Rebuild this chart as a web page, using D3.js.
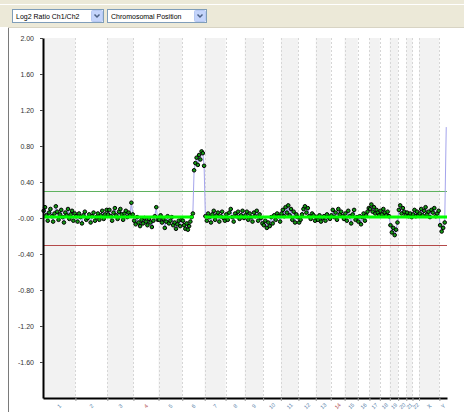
<!DOCTYPE html>
<html>
<head>
<meta charset="utf-8">
<script src="https://cdn.jsdelivr.net/npm/d3@7/dist/d3.min.js"></script>
<style>
    html, body { margin: 0; padding: 0; background: #fff; }
    svg { display: block; font-family: "Liberation Sans", Arial, sans-serif; }
</style>
</head>
<body>
<svg id="chart" width="464" height="412"></svg>
<script>

// chromosomes and their lengths (Mb)
var chromosomes = ['1', '2', '3', '4', '5', '6', '7', '8', '9', '10', '11', '12',
    '13', '14', '15', '16', '17', '18', '19', '20', '21', '22', 'X', 'Y'];
var chromLengths = [247, 243, 199, 191, 181, 171, 159, 146, 140, 135, 134, 132,
    114, 106, 100, 89, 79, 76, 64, 62, 47, 50, 155, 58];

// log2 ratio Ch1/Ch2, probes in order along each chromosome
var log2Chr1 = [0.08, 0.12, 0.03, -0.03, 0.06, 0.10, 0.02, -0.04, 0.05, 0.13, 0.07, -0.02,
    0.04, 0.09, 0.01, -0.05, 0.06, 0.03, 0.10, -0.01, 0.04, 0.08, -0.03, 0.05];
var log2Chr2 = [0.02, -0.04, 0.05, 0.01, -0.06, 0.03, 0.07, -0.02, 0.00, 0.04, -0.05,
    0.02, 0.06, -0.03, 0.01, 0.05, -0.02, 0.03, 0.08, -0.01, 0.04, 0.09];
var log2Chr3 = [0.04, 0.09, 0.02, -0.03, 0.06, 0.11, 0.03, -0.01, 0.07, 0.10, 0.04, -0.02,
    0.05, 0.08, 0.01, 0.06, 0.03, 0.17, 0.04];
var log2Chr4 = [-0.03, -0.07, 0.01, -0.05, -0.09, -0.02, -0.06, 0.00, -0.04, -0.08, -0.01,
    -0.05, -0.10, -0.03, 0.02, 0.12, -0.02];
var log2Chr5 = [-0.02, 0.03, -0.05, -0.01, -0.11, -0.04, 0.02, -0.06, -0.03, 0.01, -0.08,
    -0.05, -0.12, -0.07, -0.03, -0.09, -0.02];
var log2Chr6 = [-0.03, -0.08, -0.12, -0.06, -0.13, -0.09, -0.04, 0.01, 0.05,
    0.53, 0.61, 0.67, 0.59, 0.70, 0.65, 0.74, 0.72, 0.58];
var log2Chr7 = [0.02, -0.03, 0.05, 0.01, -0.05, 0.04, 0.08, -0.02, 0.03, 0.06, -0.04,
    0.02, 0.07, 0.00, -0.03];
var log2Chr8 = [0.04, -0.02, 0.06, 0.10, 0.01, -0.04, 0.05, 0.02, 0.07, -0.01, 0.03, 0.08, 0.00];
var log2Chr9 = [0.03, 0.07, -0.02, 0.05, 0.01, -0.04, 0.06, 0.02, 0.08, -0.03, 0.04, 0.00, -0.06];
var log2Chr10 = [-0.08, -0.03, -0.11, -0.05, -0.09, 0.01, -0.06, 0.03, -0.02, 0.05, 0.02, -0.04];
var log2Chr11 = [0.05, 0.09, 0.02, 0.12, 0.06, 0.14, 0.03, 0.10, -0.02, 0.07, -0.05, 0.04, 0.01];
var log2Chr12 = [-0.05, -0.02, 0.04, 0.10, 0.13, 0.06, 0.11, 0.02, -0.01, 0.05, 0.03, -0.03];
var log2Chr13 = [0.01, -0.02, 0.03, -0.04, 0.00, 0.02, -0.03, 0.04, 0.01, -0.01];
var log2Chr14 = [0.03, 0.09, 0.01, 0.06, -0.02, 0.10, 0.04, 0.07, 0.02, -0.01];
var log2Chr15 = [0.05, -0.03, 0.08, 0.02, -0.06, 0.04, 0.09, -0.02, 0.01];
var log2Chr16 = [-0.04, 0.02, -0.07, 0.01, 0.05, -0.03, 0.03, 0.07, 0.11];
var log2Chr17 = [0.10, 0.15, 0.07, 0.12, 0.05, 0.09, 0.06, 0.03];
var log2Chr18 = [0.08, 0.04, 0.10, 0.06, 0.03, 0.07, 0.02];
var log2Chr19 = [-0.08, -0.16, -0.11, -0.19, -0.13, -0.05];
var log2Chr20 = [0.09, 0.14, 0.05, 0.11, 0.07, 0.03];
var log2Chr21 = [0.06, 0.02, 0.05, 0.01];
var log2Chr22 = [0.04, 0.09, 0.02, 0.07, 0.03];
var log2ChrX = [0.05, 0.10, 0.03, 0.08, 0.12, 0.04, 0.07, 0.01, 0.09, 0.06, 0.11, 0.02, 0.05, 0.08];
var log2ChrY = [-0.08, -0.15, -0.11, -0.05, 1.01];

var probeValues = [log2Chr1, log2Chr2, log2Chr3, log2Chr4, log2Chr5, log2Chr6, log2Chr7,
    log2Chr8, log2Chr9, log2Chr10, log2Chr11, log2Chr12, log2Chr13, log2Chr14, log2Chr15,
    log2Chr16, log2Chr17, log2Chr18, log2Chr19, log2Chr20, log2Chr21, log2Chr22,
    log2ChrX, log2ChrY];

// probes kept in the trace but not drawn as dots
var filteredProbes = [{chrom: 'Y', index: 4}];

// baseline segments: start chrom/Mb, end chrom/Mb, mean log2 ratio
var segStartChrom = ['1', '7'];
var segStartMb = [0, 0];
var segEndChrom = ['6', 'Y'];
var segEndMb = [85, 58];
var segValues = [0.012, 0.012];

var thresholds = [0.3, -0.3];

var yTicks = [2, 1.6, 1.2, 0.8, 0.4, 0, -0.4, -0.8, -1.2, -1.6];
var yTickLabels = ['2.00', '1.60', '1.20', '0.80', '0.40', '-0.00', '-0.40', '-0.80', '-1.20', '-1.60'];

var dropdownLabels = ['Log2 Ratio Ch1/Ch2', 'Chromosomal Position'];

var redLabels = ['4', '14'];

var svg = d3.select('#chart');

// --- toolbar ---
svg.append('rect')
    .attr('x', 0).attr('y', 0)
    .attr('width', 464).attr('height', 27)
    .attr('fill', '#ece9d8');
svg.append('line')
    .attr('x1', 0).attr('x2', 464)
    .attr('y1', 4.5).attr('y2', 4.5)
    .attr('stroke', '#fff');
svg.append('rect')
    .attr('x', 0).attr('y', 27)
    .attr('width', 464).attr('height', 385)
    .attr('fill', '#fff');
svg.append('line')
    .attr('x1', 8.5).attr('x2', 8.5)
    .attr('y1', 27).attr('y2', 412)
    .attr('stroke', '#7a7a7a');
svg.append('line')
    .attr('x1', 8).attr('x2', 464)
    .attr('y1', 27.5).attr('y2', 27.5)
    .attr('stroke', '#d8d4c4');

var dropdownBoxes = [{x: 12, w: 92}, {x: 107, w: 100}];

var dd = svg.selectAll('g.dropdown')
    .data(dropdownLabels)
    .enter()
    .append('g')
    .attr('class', 'dropdown')
    .attr('transform', (d, i) => 'translate(' + dropdownBoxes[i].x + ',9)');

dd.append('rect')
    .attr('x', 0.5).attr('y', 0.5)
    .attr('width', (d, i) => dropdownBoxes[i].w - 1)
    .attr('height', 13)
    .attr('fill', '#fff')
    .attr('stroke', '#7f9db9');

dd.append('text')
    .attr('x', 4).attr('y', 10)
    .attr('font-size', 7)
    .attr('fill', '#000')
    .text(d => d);

dd.append('rect')
    .attr('x', (d, i) => dropdownBoxes[i].w - 12.5)
    .attr('y', 1.5)
    .attr('width', 11).attr('height', 11)
    .attr('rx', 1)
    .attr('fill', '#c4d4fb')
    .attr('stroke', '#b7c9f3');

dd.append('path')
    .attr('d', (d, i) => {
        var cx = dropdownBoxes[i].w - 7;
        return 'M' + (cx - 2.5) + ',5.5L' + cx + ',8L' + (cx + 2.5) + ',5.5';
    })
    .attr('fill', 'none')
    .attr('stroke', '#4d6185')
    .attr('stroke-width', 1.5);

// --- scales ---
var offsets = [];
chromLengths.reduce((acc, len, i) => { offsets[i] = acc; return acc + len; }, 0);
var totalMb = d3.sum(chromLengths);

var x = d3.scaleLinear().domain([0, totalMb]).range([43, 447]);
var y = d3.scaleLinear().domain([-2, 2]).range([398, 38]);

function genomePos(chrom, mb) {
    return offsets[chromosomes.indexOf(chrom)] + mb;
}

// --- chromosome bands ---
var chromData = chromosomes.map((c, i) => ({
    name: c, start: offsets[i], end: offsets[i] + chromLengths[i], index: i
}));

svg.append('g')
    .selectAll('rect')
    .data(chromData.filter(d => d.index % 2 === 0))
    .enter()
    .append('rect')
    .attr('x', d => x(d.start))
    .attr('y', y(2))
    .attr('width', d => x(d.end) - x(d.start))
    .attr('height', y(-2) - y(2))
    .attr('fill', '#f2f2f2');

svg.append('g')
    .selectAll('line')
    .data(chromData.slice(0, -1))
    .enter()
    .append('line')
    .attr('x1', d => Math.round(x(d.end)) + 0.5)
    .attr('x2', d => Math.round(x(d.end)) + 0.5)
    .attr('y1', y(2))
    .attr('y2', y(-2))
    .attr('stroke', '#d6d6d6')
    .attr('stroke-dasharray', '2,2');

// --- threshold lines ---
svg.append('g')
    .selectAll('line')
    .data(thresholds)
    .enter()
    .append('line')
    .attr('x1', x(0))
    .attr('x2', x(totalMb))
    .attr('y1', d => Math.round(y(d)) + 0.5)
    .attr('y2', d => Math.round(y(d)) + 0.5)
    .attr('stroke', d => d > 0 ? '#5fb25f' : '#b44a4a')
    .attr('stroke-width', 1);

// --- probes ---
var probes = [];
probeValues.forEach((values, ci) => {
    values.forEach((v, i) => {
        var filtered = filteredProbes.some(f => f.chrom === chromosomes[ci] && f.index === i);
        probes.push({
            pos: offsets[ci] + (i + 0.5) / values.length * chromLengths[ci],
            value: v,
            filtered: filtered
        });
    });
});

var trace = d3.line()
    .x(d => x(d.pos))
    .y(d => y(d.value));

svg.append('path')
    .datum(probes)
    .attr('d', trace)
    .attr('fill', 'none')
    .attr('stroke', '#a4a4ec')
    .attr('stroke-width', 1);

svg.append('g')
    .selectAll('circle')
    .data(probes.filter(d => !d.filtered))
    .enter()
    .append('circle')
    .attr('cx', d => x(d.pos))
    .attr('cy', d => y(d.value))
    .attr('r', 1.8)
    .attr('fill', '#139c13')
    .attr('stroke', '#000')
    .attr('stroke-width', 1);

// --- segments ---
var segments = segValues.map((v, i) => ({
    from: genomePos(segStartChrom[i], segStartMb[i]),
    to: genomePos(segEndChrom[i], segEndMb[i]),
    value: v
}));

svg.append('g')
    .selectAll('line')
    .data(segments)
    .enter()
    .append('line')
    .attr('x1', d => x(d.from))
    .attr('x2', d => x(d.to))
    .attr('y1', d => y(d.value))
    .attr('y2', d => y(d.value))
    .attr('stroke', '#00ff00')
    .attr('stroke-width', 3);

// --- axes ---
var yAxis = d3.axisLeft(y)
    .tickValues(yTicks)
    .tickFormat((d, i) => yTickLabels[i])
    .tickSize(3)
    .tickSizeOuter(0)
    .tickPadding(6);

var gY = svg.append('g')
    .attr('transform', 'translate(43,0)')
    .call(yAxis);
gY.select('.domain').attr('stroke', '#000').attr('stroke-width', 2);
gY.selectAll('.tick line').attr('stroke', '#444');
gY.selectAll('.tick text')
    .attr('font-family', '"Liberation Sans", Arial, sans-serif')
    .attr('font-size', 7)
    .attr('fill', '#333');

var xAxis = d3.axisBottom(x)
    .tickValues(chromData.slice(0, -1).map(d => d.end))
    .tickFormat('')
    .tickSize(3)
    .tickSizeOuter(0);

var gX = svg.append('g')
    .attr('transform', 'translate(0,398)')
    .call(xAxis);
gX.select('.domain').attr('stroke', '#000').attr('stroke-width', 2);
gX.selectAll('.tick line').attr('stroke', '#999');

svg.append('g')
    .selectAll('text')
    .data(chromData)
    .enter()
    .append('text')
    .attr('transform', d => 'translate(' + x((d.start + d.end) / 2) + ',406) rotate(-45)')
    .attr('text-anchor', 'middle')
    .attr('dominant-baseline', 'central')
    .attr('font-size', 5.5)
    .attr('fill', d => redLabels.indexOf(d.name) !== -1 ? '#a83838' : '#4f7aa6')
    .text(d => d.name);

</script>
</body>
</html>
